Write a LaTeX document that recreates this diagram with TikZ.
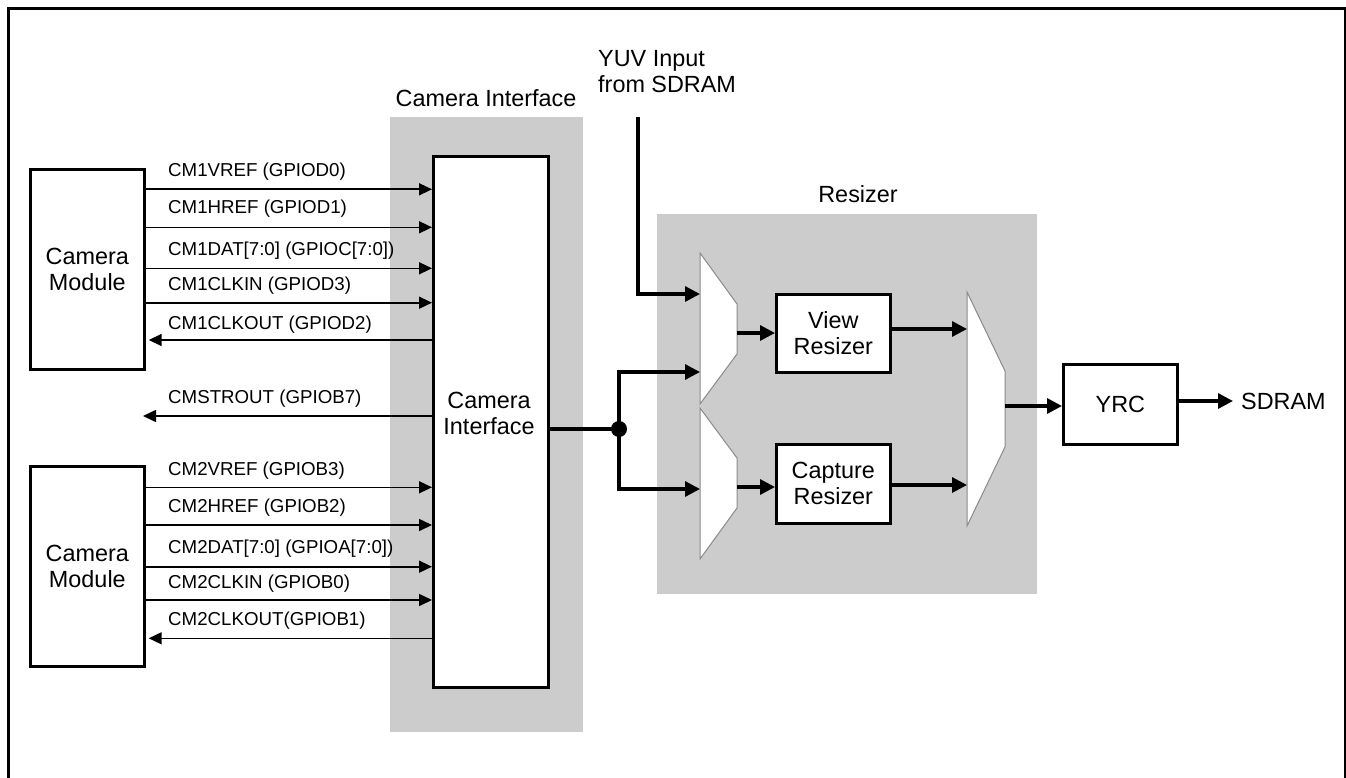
\documentclass[tikz,border=0pt]{standalone}
\usepackage{fontspec}
\setmainfont{Liberation Sans}
\usetikzlibrary{arrows.meta,calc}
\definecolor{regiongray}{HTML}{CCCCCC}
\definecolor{muxedge}{HTML}{8A8A8A}
\newcommand\bigtxt{\fontsize{23.4}{26}\selectfont}
\newcommand\sigtxt{\fontsize{18.7}{22}\selectfont}
\tikzset{
  box/.style={draw, line width=2.7pt, fill=white, inner sep=0pt, align=center, font=\bigtxt},
  sig/.style={line width=1.6pt, -{Triangle[length=13pt,width=12pt]}},
  bus/.style={line width=3.2pt, -{Triangle[length=15pt,width=15pt]}},
  busline/.style={line width=3.2pt},
  lbl/.style={anchor=base west, inner sep=0pt, font=\sigtxt},
  title/.style={inner sep=0pt, font=\bigtxt, align=left},
  mux/.style={draw=muxedge, line width=1pt, fill=white},
  region/.style={fill=regiongray, draw=none}
}
\begin{document}
\begin{tikzpicture}[x=1pt,y=-1pt]
\useasboundingbox (0,0) rectangle (1346,778);
% outer frame
\draw[line width=3pt] (8,790) -- (8,9) -- (1345,9) -- (1345,790);

% gray regions
\fill[region] (390,117) rectangle (583,732);
\fill[region] (657,214) rectangle (1037,594);
\node[title, anchor=base] (citl) at (486,107) {Camera Interface};
\node[title, anchor=base] (rstl) at (858,203) {Resizer};
\node[title, anchor=north west] (yuvtl) at (598,50) {YUV Input\\from SDRAM};

% boxes
\node[box, anchor=north west, minimum width=114, minimum height=200] (cm1) at (29,168) {Camera\\Module};
\node[box, anchor=north west, minimum width=114, minimum height=200] (cm2) at (29,465) {Camera\\Module};
\node[box, anchor=north west, minimum width=115, minimum height=531] (ci) at (432,155) {};
\node[title, align=center] (citxt) at (489,413) {Camera\\Interface};
\node[box, anchor=north west, minimum width=114, minimum height=78] (vr) at (775,293) {View\\Resizer};
\node[box, anchor=north west, minimum width=114, minimum height=79] (cr) at (775,443) {Capture\\Resizer};
\node[box, anchor=north west, minimum width=114, minimum height=80] (yrc) at (1062,363) {YRC};
\node[title, anchor=west, inner sep=0pt] (sdram) at (1241,401) {SDRAM};

% muxes
\draw[mux] (700,253) coordinate (m1tl) -- (737,304) -- (737,354) -- (700,404) -- cycle;
\draw[mux] (700,408) coordinate (m2tl) -- (737,458) -- (737,508) -- (700,559) -- cycle;
\draw[mux] (967,292) coordinate (m3tl) -- (1005,371) -- (1005,447) -- (967,526) -- cycle;
\coordinate (m1a) at (700,294);
\coordinate (m1b) at (700,372);
\coordinate (m2a) at (700,489);
\coordinate (m1o) at (737,333);
\coordinate (m2o) at (737,487);
\coordinate (m3a) at (967,329);
\coordinate (m3b) at (967,485);
\coordinate (m3o) at (1005,406);

% camera 1 signals
\draw[sig] (cm1.east |- 0,189.3) -- (ci.west |- 0,189.3);
\node[lbl] (l1) at (168,176.7) {CM1VREF (GPIOD0)};
\draw[sig] (cm1.east |- 0,227.3) -- (ci.west |- 0,227.3);
\node[lbl] (l2) at (168,214) {CM1HREF (GPIOD1)};
\draw[sig] (cm1.east |- 0,268.3) -- (ci.west |- 0,268.3);
\node[lbl] (l3) at (168,255) {CM1DAT[7:0] (GPIOC[7:0])};
\draw[sig] (cm1.east |- 0,302.7) -- (ci.west |- 0,302.7);
\node[lbl] (l4) at (168,290.7) {CM1CLKIN (GPIOD3)};
\draw[sig, shorten >=3pt] (ci.west |- 0,340) -- (cm1.east |- 0,340);
\node[lbl] (l5) at (168,329) {CM1CLKOUT (GPIOD2)};

% strobe out
\coordinate (strend) at (143,416);
\draw[sig] (ci.west |- strend) -- (strend);
\node[lbl] (l6) at (168,403.3) {CMSTROUT (GPIOB7)};

% camera 2 signals
\draw[sig] (cm2.east |- 0,487.3) -- (ci.west |- 0,487.3);
\node[lbl] (l7) at (168,475) {CM2VREF (GPIOB3)};
\draw[sig] (cm2.east |- 0,525) -- (ci.west |- 0,525);
\node[lbl] (l8) at (168,512.7) {CM2HREF (GPIOB2)};
\draw[sig] (cm2.east |- 0,566.7) -- (ci.west |- 0,566.7);
\node[lbl] (l9) at (168,553.3) {CM2DAT[7:0] (GPIOA[7:0])};
\draw[sig] (cm2.east |- 0,600) -- (ci.west |- 0,600);
\node[lbl] (l10) at (168,588.3) {CM2CLKIN (GPIOB0)};
\draw[sig, shorten >=3pt] (ci.west |- 0,638.3) -- (cm2.east |- 0,638.3);
\node[lbl] (l11) at (168,625) {CM2CLKOUT(GPIOB1)};

% YUV input
\coordinate (yuvtop) at (638,117);
\draw[bus] (yuvtop) |- (m1a);

% camera interface output and split
\node[circle, fill, minimum size=16, inner sep=0pt] (j) at (619,429) {};
\draw[busline] (ci.east |- j) -- (j.center);
\draw[bus] (j.center) |- (m1b);
\draw[bus] (j.center) |- (m2a);

% mux to resizers
\draw[bus] (m1o) -- (vr.west |- m1o);
\draw[bus] (m2o) -- (cr.west |- m2o);
\draw[bus] (vr.east |- m3a) -- (m3a);
\draw[bus] (cr.east |- m3b) -- (m3b);
\draw[bus] (m3o) -- (yrc.west |- m3o);
\draw[bus, shorten >=8pt] (yrc.east |- sdram) -- (sdram.west);
\end{tikzpicture}
\end{document}
